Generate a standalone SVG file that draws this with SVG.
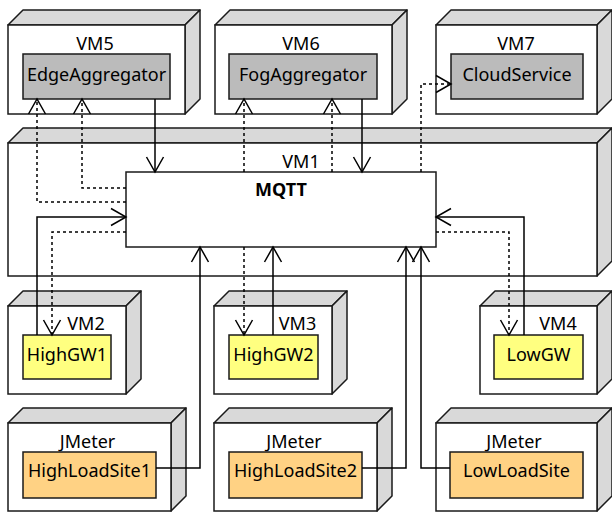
<svg xmlns="http://www.w3.org/2000/svg" width="612" height="512" viewBox="0 0 612 512">
<style>
.front{fill:#ffffff;stroke:#1a1a1a;stroke-width:1.5}
.face{fill:#d9d9d9;stroke:#1a1a1a;stroke-width:1.5;stroke-linejoin:round}
.gray{fill:#bbbbbb;stroke:#1a1a1a;stroke-width:1.5}
.yellow{fill:#ffff80;stroke:#1a1a1a;stroke-width:1.5}
.orange{fill:#ffd284;stroke:#1a1a1a;stroke-width:1.5}
.mq{fill:#ffffff;stroke:#1a1a1a;stroke-width:1.5}
text{font-family:"Noto Sans","Open Sans","DejaVu Sans",sans-serif;font-size:18px;fill:#000;text-anchor:middle}
.b{font-weight:bold}
.c{fill:none;stroke:#000;stroke-width:1.5;marker-end:url(#ah)}
.d{stroke-dasharray:3,3}
</style>
<defs>
<marker id="ah" markerUnits="userSpaceOnUse" markerWidth="20" markerHeight="20" viewBox="-17 -10 20 20" refX="0" refY="0" orient="auto">
<path d="M-15,-8.5 L0,0 L-15,8.5" fill="none" stroke="#000" stroke-width="1.5" stroke-dasharray="none"/>
</marker>
</defs>

<g id="VM5">
<polygon class="face" points="8,25 23,10 200,10 185,25"/>
<polygon class="face" points="185,25 200,10 200,99 185,114"/>
<rect class="front" x="8" y="25" width="177" height="89"/>
<text x="95" y="50">VM5</text>
</g>
<g id="EdgeAggregator">
<rect class="gray" x="23" y="54" width="147" height="45"/>
<text x="96.5" y="81">EdgeAggregator</text>
</g>

<g id="VM6">
<polygon class="face" points="215,25 230,10 407,10 392,25"/>
<polygon class="face" points="392,25 407,10 407,99 392,114"/>
<rect class="front" x="215" y="25" width="177" height="89"/>
<text x="301" y="50">VM6</text>
</g>
<g id="FogAggregator">
<rect class="gray" x="229" y="54" width="148" height="45"/>
<text x="303" y="81">FogAggregator</text>
</g>

<g id="VM7">
<polygon class="face" points="436,25 451,10 612,10 597,25"/>
<polygon class="face" points="597,25 612,10 612,99 597,114"/>
<rect class="front" x="436" y="25" width="161" height="89"/>
<text x="516" y="50">VM7</text>
</g>
<g id="CloudService">
<rect class="gray" x="451" y="54" width="132" height="45"/>
<text x="517" y="81">CloudService</text>
</g>

<g id="VM1">
<polygon class="face" points="8,143 23,128 612,128 597,143"/>
<polygon class="face" points="597,143 612,128 612,261 597,276"/>
<rect class="front" x="8" y="143" width="589" height="133"/>
<text x="301" y="168">VM1</text>
</g>
<g id="MQTT">
<rect class="mq" x="126" y="172" width="310" height="75"/>
<text class="b" x="281" y="196">MQTT</text>
</g>

<g id="VM2">
<polygon class="face" points="8,306 23,291 141,291 126,306"/>
<polygon class="face" points="126,306 141,291 141,379 126,394"/>
<rect class="front" x="8" y="306" width="118" height="88"/>
<text x="86" y="330">VM2</text>
</g>
<g id="HighGW1">
<rect class="yellow" x="23" y="335" width="88" height="44"/>
<text x="67" y="361">HighGW1</text>
</g>

<g id="VM3">
<polygon class="face" points="214,306 229,291 347,291 332,306"/>
<polygon class="face" points="332,306 347,291 347,379 332,394"/>
<rect class="front" x="214" y="306" width="118" height="88"/>
<text x="297.5" y="330">VM3</text>
</g>
<g id="HighGW2">
<rect class="yellow" x="229" y="335" width="89" height="44"/>
<text x="273.5" y="361">HighGW2</text>
</g>

<g id="VM4">
<polygon class="face" points="480,306 495,291 612,291 597,306"/>
<polygon class="face" points="597,306 612,291 612,379 597,394"/>
<rect class="front" x="480" y="306" width="117" height="88"/>
<text x="558" y="330">VM4</text>
</g>
<g id="LowGW">
<rect class="yellow" x="494" y="335" width="89" height="44"/>
<text x="538.5" y="361">LowGW</text>
</g>

<g id="JMeter1">
<polygon class="face" points="8,423 23,408 186,408 171,423"/>
<polygon class="face" points="171,423 186,408 186,496 171,511"/>
<rect class="front" x="8" y="423" width="163" height="88"/>
<text x="87.5" y="448">JMeter</text>
</g>
<g id="HighLoadSite1">
<rect class="orange" x="23" y="452" width="133" height="46"/>
<text x="89.5" y="477">HighLoadSite1</text>
</g>

<g id="JMeter2">
<polygon class="face" points="214,423 229,408 392,408 377,423"/>
<polygon class="face" points="377,423 392,408 392,496 377,511"/>
<rect class="front" x="214" y="423" width="163" height="88"/>
<text x="294" y="448">JMeter</text>
</g>
<g id="HighLoadSite2">
<rect class="orange" x="229" y="452" width="133" height="46"/>
<text x="295.5" y="477">HighLoadSite2</text>
</g>

<g id="JMeter3">
<polygon class="face" points="436,423 451,408 612,408 597,423"/>
<polygon class="face" points="597,423 612,408 612,496 597,511"/>
<rect class="front" x="436" y="423" width="161" height="88"/>
<text x="514" y="448">JMeter</text>
</g>
<g id="LowLoadSite">
<rect class="orange" x="450" y="452" width="133" height="46"/>
<text x="516.5" y="477">LowLoadSite</text>
</g>

<g id="connectors">
<polyline class="c" points="155,99 155,172"/>
<polyline class="c" points="362,99 362,172"/>
<polyline class="c" points="37,335 37,217 126,217"/>
<polyline class="c" points="524,335 524,217 436,217"/>
<polyline class="c" points="156,468 200,468 200,247"/>
<polyline class="c" points="273,335 273,247"/>
<polyline class="c" points="362,468 406,468 406,247"/>
<polyline class="c" points="450,468 421,468 421,247"/>
<polyline class="c d" points="126,188 82,188 82,99"/>
<polyline class="c d" points="126,202 37,202 37,99"/>
<polyline class="c d" points="126,232 52,232 52,335"/>
<polyline class="c d" points="244,172 244,99"/>
<polyline class="c d" points="244,247 244,335"/>
<polyline class="c d" points="332,172 332,99"/>
<polyline class="c d" points="421,172 421,84 451,84"/>
<polyline class="c d" points="436,232 509,232 509,335"/>
</g>
</svg>
